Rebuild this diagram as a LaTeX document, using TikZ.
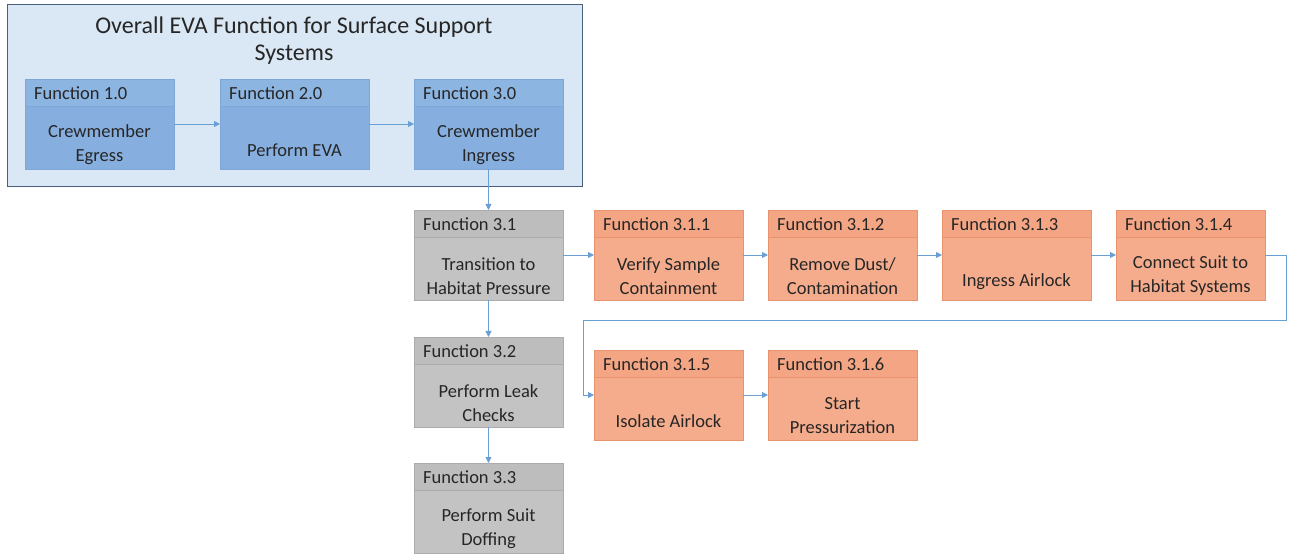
\documentclass[tikz,border=0pt]{standalone}
\usepackage{fontspec}
\setmainfont{Carlito}
\usetikzlibrary{arrows.meta,calc}

\definecolor{outerfill}{HTML}{DAE7F4}
\definecolor{outeredge}{HTML}{4A5F7E}
\definecolor{bluehead}{HTML}{8DB5E2}
\definecolor{bluebody}{HTML}{86AFDF}
\definecolor{blueedge}{HTML}{7FA6D6}
\definecolor{grayhead}{HTML}{BDBDBD}
\definecolor{graybody}{HTML}{C3C3C3}
\definecolor{grayedge}{HTML}{ABABAB}
\definecolor{orangehead}{HTML}{F4A584}
\definecolor{orangebody}{HTML}{F5AC8C}
\definecolor{orangeedge}{HTML}{E8936D}
\definecolor{linkcol}{HTML}{6A9FD6}
\definecolor{txt}{HTML}{262626}

\tikzset{
  fnframe/.style={rectangle, minimum width=149bp, minimum height=90bp,
    inner sep=0pt, outer sep=0pt, line width=0.8bp},
  fnhead/.style={rectangle, minimum width=149bp, minimum height=27.5bp,
    inner sep=0pt, outer sep=0pt, line width=0.8bp},
  headtext/.style={font=\fontsize{18.5bp}{22bp}\selectfont, text=txt, inner sep=0pt},
  bodytext/.style={font=\fontsize{18.5bp}{24bp}\selectfont, text=txt,
    align=center, inner sep=0pt},
  link/.style={draw=linkcol, line width=0.9bp,
    -{Triangle[width=6bp,length=6bp]}},
  plainlink/.style={draw=linkcol, line width=0.9bp},
}

% #1 name, #2 left, #3 top, #4 colour set, #5 header, #6 body
\newcommand\funcbox[6]{%
  \node[fnframe, fill=#4body, draw=#4edge, anchor=north west] (#1) at (#2,#3) {};
  \node[fnhead, fill=#4head, draw=#4edge, anchor=north west] (#1h) at (#1.north west) {};
  \node[headtext, anchor=west] (#1l) at ([xshift=9bp]#1h.west) {#5};
  \node[bodytext] (#1t) at ([yshift=-7bp]$(#1h.south)!0.5!(#1.south)$) {#6};
}

\begin{document}
\begin{tikzpicture}[x=1bp,y=-1bp]
\useasboundingbox (0,0) rectangle (1296,556);

% enclosing frame of the top-level functions
\node[rectangle, fill=outerfill, draw=outeredge, line width=1.2bp,
  minimum width=575bp, minimum height=182bp, inner sep=0pt, anchor=north west]
  (outer) at (7,4) {};
\node[font=\fontsize{24bp}{27bp}\selectfont, text=txt, align=center]
  (title) at (294,41) {Overall EVA Function for Surface Support\\Systems};

% top level
\funcbox{f1}{25}{79}{blue}{Function 1.0}{Crewmember\\Egress}
\funcbox{f2}{220}{79}{blue}{Function 2.0}{\mbox{}\\Perform EVA}
\funcbox{f3}{414}{79}{blue}{Function 3.0}{Crewmember\\Ingress}

% second level
\funcbox{f31}{414}{210}{gray}{Function 3.1}{Transition to\\Habitat Pressure}
\funcbox{f32}{414}{337}{gray}{Function 3.2}{Perform Leak\\Checks}
\funcbox{f33}{414}{463}{gray}{Function 3.3}{Perform Suit\\Doffing}

% third level
\funcbox{f311}{594}{210}{orange}{Function 3.1.1}{Verify Sample\\Containment}
\funcbox{f312}{768}{210}{orange}{Function 3.1.2}{Remove Dust/\\Contamination}
\funcbox{f313}{942}{210}{orange}{Function 3.1.3}{\mbox{}\\Ingress Airlock}
\funcbox{f314}{1116}{210}{orange}{Function 3.1.4}{Connect Suit to\\Habitat Systems}
\funcbox{f315}{594}{350}{orange}{Function 3.1.5}{\mbox{}\\Isolate Airlock}
\funcbox{f316}{768}{350}{orange}{Function 3.1.6}{Start\\Pressurization}

% connectors
\draw[link] (f1) -- (f2);
\draw[link] (f2) -- (f3);
\draw[link] (f3) -- (f31);
\draw[link] (f31) -- (f32);
\draw[link] (f32) -- (f33);
\draw[link] (f31) -- (f311);
\draw[link] (f311) -- (f312);
\draw[link] (f312) -- (f313);
\draw[link] (f313) -- (f314);
\coordinate (wrapR) at (1286,320);
\coordinate (wrapL) at (583,320);
\draw[plainlink] (f314.east) -| (wrapR) -- (wrapL);
\draw[link] (wrapL) |- (f315.west);
\draw[link] (f315) -- (f316);
\end{tikzpicture}
\end{document}
